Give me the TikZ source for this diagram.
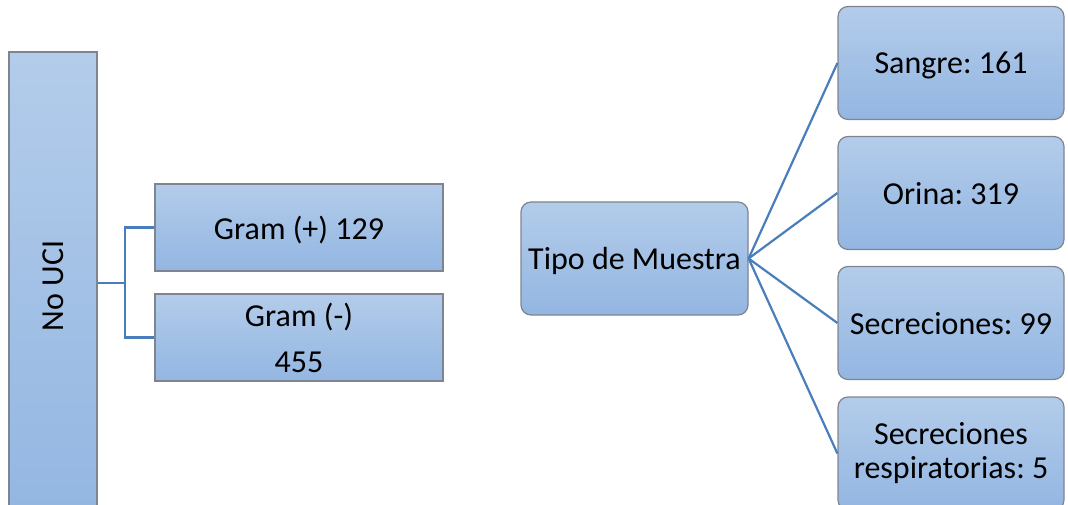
\documentclass[tikz,border=0pt]{standalone}
\usepackage{fontspec}
\setmainfont{Carlito}
\frenchspacing
\definecolor{topc}{HTML}{B3CCEA}
\definecolor{botc}{HTML}{93B6E2}
\definecolor{edgec}{HTML}{7F8590}
\definecolor{linec}{HTML}{4A7EBB}
\begin{document}
\begin{tikzpicture}[x=1pt,y=-1pt,
  box/.style={draw=edgec, line width=1.2pt, top color=topc, bottom color=botc, inner sep=0pt, font=\fontsize{32}{34}\selectfont, align=center},
  rbox/.style={box, rounded corners=10pt, minimum width=226pt, minimum height=113pt},
  gbox/.style={box, minimum width=288pt, minimum height=87pt},
  one/.style={text depth=0pt},
  conn/.style={draw=linec, line width=2.2pt}]
\useasboundingbox (0,0) rectangle (1068,505);
\clip (0,0) rectangle (1068,505);
% left part
\node[box, minimum width=88pt, minimum height=468pt] (nouci) at (53,286) {};
\node[rotate=90, font=\fontsize{32}{34}\selectfont, inner sep=0pt] (noucit) at (nouci.center) {No UCI};
\node[gbox, one] (gp) at (299,227.5) {Gram (+) 129};
\node[gbox, font=\fontsize{32}{38}\selectfont] (gm) at (299,337.5) {Gram (-)\\[8pt]455};
\coordinate (j) at (125,283);
\draw[conn] (nouci.east |- j) -- (j);
\draw[conn] (gp.west) -| (j);
\draw[conn] (gm.west) -| (j);
% right part
\node[rbox, one, minimum width=227pt] (tipo) at (634.5,258.5) {Tipo de Muestra};
\node[rbox, one] (s1) at (951,63) {Sangre: 161};
\node[rbox, one] (s2) at (951,193) {Orina: 319};
\node[rbox, one] (s3) at (951,323) {Secreciones: 99};
\node[rbox] (s4) at (951,453.5) {Secreciones\\respiratorias: 5};
\foreach \n in {s1,s2,s3,s4} \draw[conn] (tipo.east) -- (\n.west);
\end{tikzpicture}
\end{document}
